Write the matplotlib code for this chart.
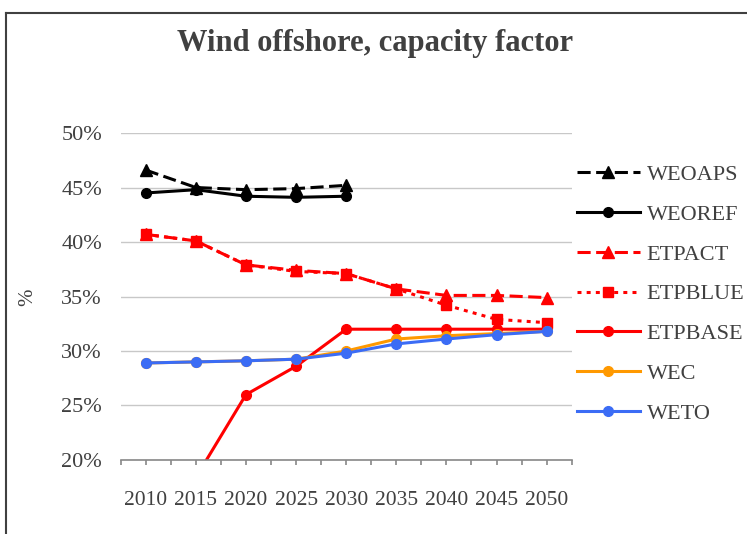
import numpy as np
import matplotlib
matplotlib.use('Agg')
import matplotlib.pyplot as plt
from matplotlib.lines import Line2D

plt.rcParams['font.family'] = ['Liberation Serif', 'DejaVu Serif']

# Data (capacity factor, %)
years = ['2010', '2015', '2020', '2025', '2030', '2035', '2040', '2045', '2050']
nan = np.nan
weoaps = [46.6, 45.0, 44.8, 44.9, 45.2, nan, nan, nan, nan]
weoref = [44.5, 44.8, 44.2, 44.1, 44.2, nan, nan, nan, nan]
etpact = [40.7, 40.1, 37.9, 37.4, 37.1, 35.7, 35.1, 35.1, 34.9]
etpblue = [40.7, 40.1, 37.9, 37.3, 37.1, 35.7, 34.2, 32.9, 32.6]
etpbase = [nan, 18.4, 26.0, 28.6, 32.0, 32.0, 32.0, 32.0, 32.0]
wec = [28.9, 29.0, 29.1, 29.25, 30.0, 31.1, 31.4, 31.6, 31.8]
weto = [28.9, 29.0, 29.1, 29.25, 29.8, 30.65, 31.1, 31.5, 31.8]

txt = '#404040'
fig = plt.figure(figsize=(7.47, 5.34), dpi=100)
ax = fig.add_axes([0.1616, 0.1386, 0.6037, 0.6123])

x = np.arange(len(years))
lw = 2.2
long_dash = (0, (4.3, 1.8))
short_dash = (0, (1.3, 1.7))

ax.plot(x, weoaps, color='black', lw=lw, ls=long_dash, marker='^', ms=8, label='WEOAPS', clip_on=False)
ax.plot(x, weoref, color='black', lw=lw, marker='o', ms=7, label='WEOREF', clip_on=False)
ax.plot(x, etpact, color='#FF0000', lw=lw, ls=long_dash, marker='^', ms=8, label='ETPACT', clip_on=False)
ax.plot(x, etpblue, color='#FF0000', lw=lw, ls=short_dash, marker='s', ms=7, label='ETPBLUE', clip_on=False)
ax.plot(x, etpbase, color='#FF0000', lw=lw, marker='o', ms=7, label='ETPBASE')
ax.plot(x, wec, color='#FF9900', lw=lw, marker='o', ms=7, label='WEC', clip_on=False)
ax.plot(x, weto, color='#3B6CF5', lw=lw, marker='o', ms=7, label='WETO', clip_on=False)

ax.set_xlim(-0.5, len(years) - 0.5)
ax.set_ylim(20, 50)
ax.set_yticks([20, 25, 30, 35, 40, 45, 50])
ax.set_yticklabels([f'{v}%' for v in [20, 25, 30, 35, 40, 45, 50]])
ax.set_xticks(x)
ax.set_xticklabels(years)
ax.set_xticks(np.arange(-0.5, len(years), 1.0), minor=True)
ax.grid(axis='y', color='#C8C8C8', lw=1)
ax.set_axisbelow(True)
for s in ['top', 'right', 'left']:
    ax.spines[s].set_visible(False)
ax.spines['bottom'].set_color('#888888')
ax.spines['bottom'].set_linewidth(1.2)
ax.tick_params(axis='y', length=0, pad=13.5, labelsize=16, labelcolor=txt)
ax.tick_params(axis='x', which='both', length=3.5, color='#888888', width=1.2, direction='out')
ax.tick_params(axis='x', which='major', pad=19, labelsize=15.5, labelcolor=txt)

fig.text(28 / 747, 1 - 297 / 534, '%', rotation=90, fontsize=15, color=txt, ha='center', va='center')
fig.text(374.7 / 747, 1 - 44 / 534, 'Wind offshore, capacity factor', fontsize=22,
         fontweight='bold', color=txt, ha='center', va='center')

leg = fig.legend(*ax.get_legend_handles_labels(), loc='center left',
                 bbox_to_anchor=(576.7 / 747, 1 - 294 / 534), frameon=False,
                 borderpad=0, borderaxespad=0, handlelength=2.85, handletextpad=0.3,
                 labelspacing=0.865, fontsize=16)
for t in leg.get_texts():
    t.set_color(txt)

# partial frame around the chart area
fig.add_artist(Line2D([6 / 747, 1], [1 - 12.5 / 534, 1 - 12.5 / 534], color='#404040', lw=1.5))
fig.add_artist(Line2D([6 / 747, 6 / 747], [0, 1 - 12.5 / 534], color='#404040', lw=1.5))

fig.savefig('out.png', dpi=100)
